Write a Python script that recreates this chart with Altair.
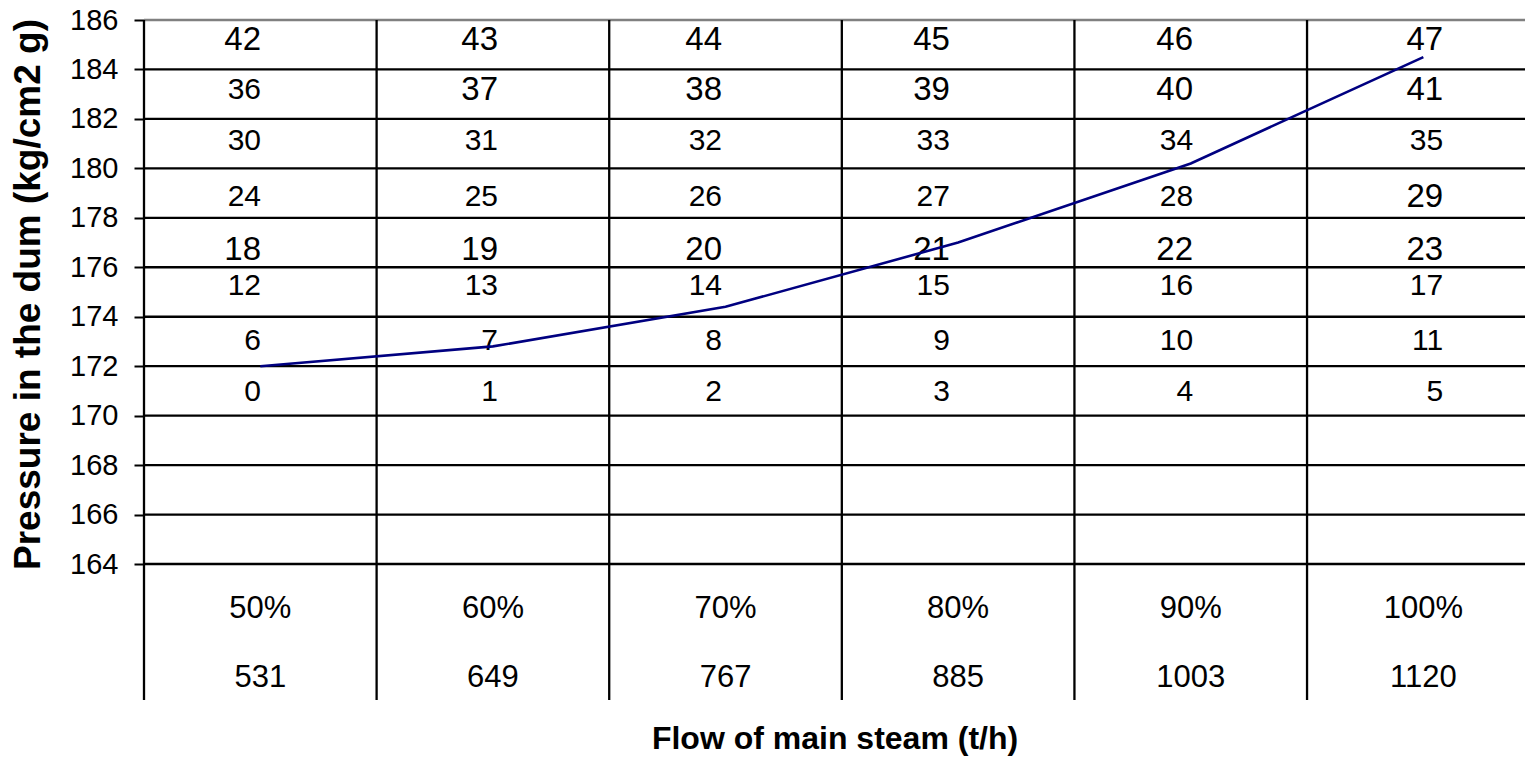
import altair as alt
import pandas as pd

# ---- data ----
load_pct = ["50%", "60%", "70%", "80%", "90%", "100%"]
flow_th = [531, 649, 767, 885, 1003, 1120]
pressure = [172.0, 172.8, 174.4, 177.0, 180.2, 184.5]
y_ticks = [164, 166, 168, 170, 172, 174, 176, 178, 180, 182, 184, 186]

# cell-number grid: row levels (pressure units) and column anchors (column units)
row_levels = [170.96, 173.02, 175.24, 176.70, 178.86, 181.11, 183.17, 185.19]
col_anchor = [0.503, 1.522, 2.485, 3.465, 4.51, 5.585]
big_labels = [18, 19, 20, 21, 22, 23, 29, 37, 38, 39, 40, 41, 42, 43, 44, 45, 46, 47]
table_levels = [162.18, 159.39]

FONT = "Liberation Sans, Arial, sans-serif"
X_MAX = 5.937
Y_MIN = 158.5

xs = alt.Scale(domain=[0, X_MAX], nice=False, zero=False)
ys = alt.Scale(domain=[Y_MIN, 186], nice=False, zero=False)

X_AX = alt.Axis(
    title="Flow of main steam (t/h)", labels=False, ticks=False, domain=False,
    grid=False, titleFont=FONT, titleFontSize=32, titleFontWeight="bold",
    titleColor="black", titleY=38, titleBaseline="middle",
)
Y_AX = alt.Axis(
    values=y_ticks, title="Pressure in the dum (kg/cm2 g)", grid=False,
    domain=False, tickSize=10, tickWidth=2, tickColor="black",
    labelFont=FONT, labelFontSize=29, labelPadding=16, labelColor="black",
    titleFont=FONT, titleFontSize=37, titleFontWeight="bold", titleColor="black",
    titleX=-116, titleY=274, titleAngle=270, titleAlign="center",
    titleBaseline="middle",
)

def X(f="x"):
    return alt.X(f"{f}:Q", scale=xs, axis=X_AX)

def Y(f="y"):
    return alt.Y(f"{f}:Q", scale=ys, axis=Y_AX)

n = len(load_pct)

df_line = pd.DataFrame({"idx": list(range(n)), "y": pressure})
df_h = pd.DataFrame({"y": y_ticks})
df_v = pd.DataFrame({"x": list(range(n))})

cells = []
for r, lvl in enumerate(row_levels):
    for c in range(n):
        num = r * n + c
        cells.append({"x": col_anchor[c], "y": lvl, "t": str(num),
                      "big": num in big_labels})
df_cells = pd.DataFrame(cells)

tab = []
for i in range(n):
    tab.append({"idx": i, "y": table_levels[0], "t": load_pct[i]})
    tab.append({"idx": i, "y": table_levels[1], "t": str(flow_th[i])})
df_tab = pd.DataFrame(tab)

hgrid = alt.Chart(df_h).mark_rule(strokeWidth=2.3).encode(
    y=Y(),
    color=alt.condition("datum.y == 186", alt.value("#808080"), alt.value("black")),
)
vgrid = alt.Chart(df_v).mark_rule(strokeWidth=2.3, color="black").encode(x=X())

cell_small = alt.Chart(df_cells).transform_filter("!datum.big").mark_text(
    align="right", baseline="middle", font=FONT, fontSize=30, color="black"
).encode(x=X(), y=Y(), text="t:N")
cell_big = alt.Chart(df_cells).transform_filter("datum.big").mark_text(
    align="right", baseline="middle", font=FONT, fontSize=33, color="black"
).encode(x=X(), y=Y(), text="t:N")

table_txt = alt.Chart(df_tab).transform_calculate(x="datum.idx + 0.5").mark_text(
    align="center", baseline="middle", font=FONT, fontSize=31, color="black"
).encode(x=X(), y=Y(), text="t:N")

line = alt.Chart(df_line).transform_calculate(x="datum.idx + 0.5").mark_line(
    color="#000080", strokeWidth=2.6
).encode(x=X(), y=Y())

chart = alt.layer(hgrid, vgrid, cell_small, cell_big, table_txt, line).properties(
    width=1381, height=680,
    autosize=alt.AutoSizeParams(type="none"),
    padding={"left": 136, "top": 12, "right": 0, "bottom": 56},
    background="white",
).configure_view(stroke=None)

chart.save("out.html", embed_options={"renderer": "svg", "actions": False})
